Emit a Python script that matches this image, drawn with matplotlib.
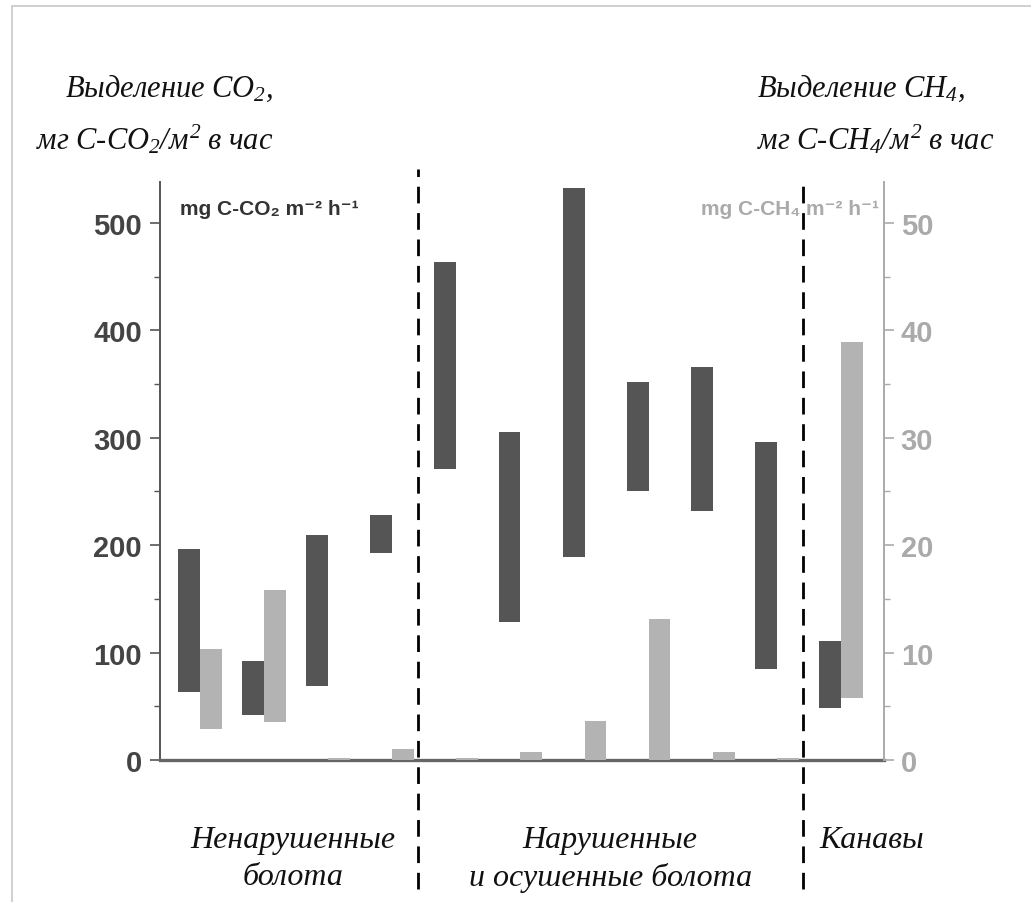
import matplotlib
matplotlib.use("Agg")
import matplotlib.pyplot as plt
from matplotlib.patches import Rectangle

# CO2 emission range (min, max), mg C-CO2 per m2 per hour
CO2_LOW = [63, 42, 69, 193, 271, 128, 189, 250, 232, 85, 48]
CO2_HIGH = [196, 92, 209, 228, 464, 305, 532, 352, 366, 296, 111]
# CH4 emission range (min, max), mg C-CH4 per m2 per hour
CH4_LOW = [2.9, 3.5, 0, 0, 0, 0, 0, 0, 0, 0, 5.8]
CH4_HIGH = [10.3, 15.8, 0.2, 1.0, 0.2, 0.7, 3.6, 13.1, 0.7, 0.2, 38.9]
# site groups: undisturbed, disturbed/drained, ditches
GROUP_LABELS = ["Ненарушенные\nболота", "Нарушенные\nи осушенные болота", "Канавы"]
GROUP_SPLITS = [3.4, 9.41]

DARK = "#555555"
LIGHT = "#b3b3b3"

plt.rcParams["mathtext.fontset"] = "custom"
plt.rcParams["mathtext.rm"] = "Liberation Serif:italic"
plt.rcParams["mathtext.it"] = "Liberation Serif:italic"

SANS = ["Liberation Sans Narrow", "Liberation Sans", "DejaVu Sans"]
SERIF = ["Liberation Serif", "DejaVu Serif"]

W, H = 1031, 903
fig = plt.figure(figsize=(W / 100, H / 100), dpi=100)
ax = fig.add_axes([0.1552, 0.1573, 0.7022, 0.640])
ax2 = ax.twinx()

x = list(range(len(CO2_LOW)))
w = 0.34
ax.bar(x, [h - l for l, h in zip(CO2_LOW, CO2_HIGH)], bottom=CO2_LOW,
       width=-w, align="edge", color=DARK, zorder=3)
ax2.bar(x, [h - l for l, h in zip(CH4_LOW, CH4_HIGH)], bottom=CH4_LOW,
        width=w, align="edge", color=LIGHT, zorder=3)

ax.set_xlim(-0.62, 10.67)
ax.set_ylim(0, 538)
ax2.set_ylim(0, 53.8)

ax.set_yticks([0, 100, 200, 300, 400, 500])
ax.set_yticks([50, 150, 250, 350, 450], minor=True)
ax2.set_yticks([0, 10, 20, 30, 40, 50])
ax2.set_yticks([5, 15, 25, 35, 45], minor=True)
ax.set_xticks([])

for a in (ax, ax2):
    a.spines["top"].set_visible(False)
    a.patch.set_visible(False)
ax.spines["right"].set_visible(False)
ax2.spines["left"].set_visible(False)
ax2.spines["bottom"].set_visible(False)
ax.spines["left"].set_color("#555555")
ax.spines["left"].set_linewidth(1.4)
ax.spines["bottom"].set_color("#666666")
ax.spines["bottom"].set_linewidth(2.4)
ax2.spines["right"].set_color("#aaaaaa")
ax2.spines["right"].set_linewidth(1.4)

ax.tick_params(axis="y", which="major", length=7, width=1.2, color="#555555",
               labelcolor="#444444", pad=6)
ax.tick_params(axis="y", which="minor", length=4, width=1.0, color="#555555")
ax2.tick_params(axis="y", which="major", length=7, width=1.2, color="#aaaaaa",
                labelcolor="#aaaaaa", pad=5)
ax2.tick_params(axis="y", which="minor", length=4, width=1.0, color="#aaaaaa")
for lab in ax.get_yticklabels() + ax2.get_yticklabels():
    lab.set_family(SANS)
    lab.set_fontweight("bold")
    lab.set_fontsize(21)

ax.text(0.028, 0.955, "mg C-CO₂ m⁻² h⁻¹", transform=ax.transAxes, ha="left", va="center",
        family=SANS, fontweight="bold", fontsize=15, color="#333333")
ax.text(0.993, 0.955, "mg C-CH₄ m⁻² h⁻¹", transform=ax.transAxes, ha="right", va="center",
        family=SANS, fontweight="bold", fontsize=15, color="#aaaaaa")

# group separators run beyond the axes
for xs, top in zip(GROUP_SPLITS, [1.022, 1.0]):
    ax.plot([xs, xs], [-0.223, top], transform=ax.get_xaxis_transform(),
            color="black", linestyle=(0, (6, 3.5)), linewidth=2.0, clip_on=False, zorder=5)

# group names under the axis
for xc, lab in zip([1.45, 6.4, 10.48], GROUP_LABELS):
    ax.text(xc, -0.17 if "\n" in lab else -0.137, lab, transform=ax.get_xaxis_transform(),
            ha="center", va="center", family=SERIF, style="italic", fontsize=23,
            color="#111111", linespacing=1.35)

# axis titles, one line at a time
left_title = [r"$Выделение\ CO_2,$", r"$мг\ C\text{-}CO_2/м^2\ в\ час$"]
right_title = [r"$Выделение\ CH_4,$", r"$мг\ C\text{-}CH_4/м^2\ в\ час$"]
for line, base in zip(left_title, [97, 150]):
    fig.text(273 / W, 1 - base / H, line, ha="right", va="baseline", fontsize=22, color="#111111")
for line, base in zip(right_title, [97, 150]):
    fig.text(757 / W, 1 - base / H, line, ha="left", va="baseline", fontsize=22, color="#111111")

# thin frame along the top and left edges
fig.add_artist(Rectangle((12 / W, -0.1), 1.2, 1 - 7 / H + 0.1, transform=fig.transFigure,
                         fill=False, edgecolor="#c8c8c8", linewidth=1.2))

fig.savefig("out.png", dpi=100)
